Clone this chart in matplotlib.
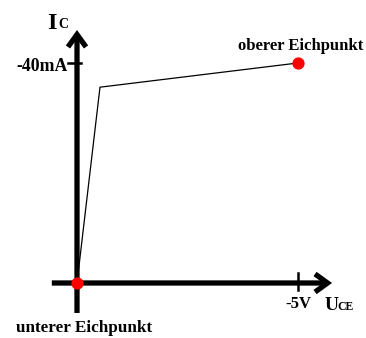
import matplotlib
matplotlib.use('Agg')
import matplotlib.pyplot as plt
from matplotlib.patches import ArrowStyle

plt.rcParams['font.family'] = ['Liberation Serif', 'DejaVu Serif']
plt.rcParams['font.weight'] = 'bold'

# Kennlinie: U_CE in V (Betrag), I_C in mA (Betrag)
u_curve = [0.0, 0.52, 5.0]
i_curve = [0.0, 35.6, 40.0]

# Eichpunkte
u_points = [0.0, 5.0]
i_points = [0.0, 40.0]
point_labels = ['unterer Eichpunkt', 'oberer Eichpunkt']

u_tick = 5.0
i_tick = 40.0

fig = plt.figure(figsize=(3.66, 3.38), dpi=100)
ax = fig.add_axes([0, 0, 1, 1])
ax.set_xlim(-1.742, 6.538)
ax.set_ylim(-10.0, 51.45)
ax.axis('off')

arrow = ArrowStyle('->', head_length=9.0, head_width=6.5)
props = dict(arrowstyle=arrow, lw=3.8, color='black', shrinkA=0, shrinkB=0,
             mutation_scale=1, joinstyle='miter', capstyle='butt')

# Achsen
ax.annotate('', xy=(5.77, 0), xytext=(-0.57, 0), arrowprops=props)
ax.annotate('', xy=(0, 46.0), xytext=(0, -5.45), arrowprops=props)

# Markierungen
ax.plot([-0.2, 0.08], [i_tick, i_tick], color='black', lw=1.8)
ax.plot([u_tick, u_tick], [1.8, -1.3], color='black', lw=1.8)

ax.plot(u_curve, i_curve, color='black', lw=0.9)
ax.plot(u_points, i_points, 'o', color='#ff0000', ms=7.8, zorder=5)

ax.text(-0.2, 38.6, '-40mA', ha='right', va='baseline', fontsize=12.8)
ax.text(u_tick, -4.5, '-5V', ha='center', va='baseline', fontsize=12)

ax.text(-0.68, 46.1, 'I', ha='left', va='baseline', fontsize=17.5)
ax.text(-0.42, 46.3, 'C', ha='left', va='baseline', fontsize=10)
ax.text(5.6, -5.0, 'U', ha='left', va='baseline', fontsize=14)
ax.text(5.9, -5.0, 'CE', ha='left', va='baseline', fontsize=8.5)

ax.text(u_points[0] + 0.16, -8.9, point_labels[0], ha='center', va='baseline', fontsize=12.3)
ax.text(u_points[1] + 0.06, 42.4, point_labels[1], ha='center', va='baseline', fontsize=12)

fig.savefig('out.png', dpi=100)
